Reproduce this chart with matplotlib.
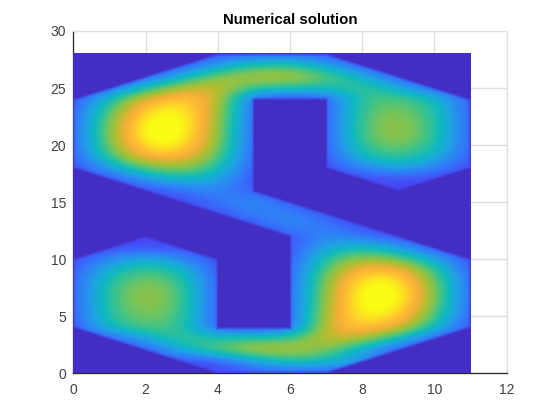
# Numerical solution on the S shaped domain, drawn like a MATLAB surf with view(2)
import numpy as np
import matplotlib
matplotlib.use('Agg')
import matplotlib.pyplot as plt
from matplotlib.colors import LinearSegmentedColormap
from matplotlib.patches import Polygon

plt.rcParams['font.family'] = ['Liberation Sans', 'DejaVu Sans']

# Domain outline
outline_x = [0, 4, 7, 11, 11, 9, 7, 7, 5, 5, 11, 11, 7, 4, 0, 0, 2, 4, 4, 6, 6, 0, 0]
outline_y = [24, 28, 28, 24, 18, 16, 18, 24, 24, 16, 10, 4, 0, 0, 4, 10, 12, 10, 4, 4, 12, 18, 24]

# Solution, nodes at x = 0..11, rows from y = 28 down to y = 0
x_nodes = [0, 1, 2, 3, 4, 5, 6, 7, 8, 9, 10, 11]
y_nodes = list(range(28, -1, -1))
u_top = [
    [.08, .08, .08, .08, .10, .12, .12, .10, .08, .08, .08, .08],  # 28
    [.08, .08, .08, .08, .27, .44, .46, .30, .08, .08, .08, .08],  # 27
    [.08, .08, .08, .33, .62, .72, .74, .58, .36, .08, .08, .08],  # 26
    [.08, .08, .42, .70, .78, .52, .52, .47, .54, .35, .08, .08],  # 25
    [.08, .42, .80, .92, .78, .09, .09, .09, .52, .56, .44, .08],  # 24
    [.10, .54, .95, 1.00, .74, .09, .09, .09, .55, .62, .49, .10],  # 23
    [.10, .62, 1.03, 1.05, .70, .09, .09, .09, .56, .67, .51, .10],  # 22
    [.10, .64, 1.05, 1.05, .68, .09, .09, .09, .56, .69, .51, .10],  # 21
    [.10, .62, 1.00, 1.00, .66, .09, .09, .09, .53, .63, .49, .10],  # 20
    [.10, .52, .88, .88, .58, .09, .09, .09, .44, .54, .40, .10],  # 19
    [.08, .32, .60, .68, .49, .09, .09, .09, .24, .37, .24, .08],  # 18
    [.08, .08, .30, .44, .34, .09, .08, .08, .08, .10, .08, .08],  # 17
    [.08, .08, .08, .18, .26, .11, .08, .08, .08, .08, .08, .08],  # 16
    [.08, .08, .08, .08, .20, .28, .11, .08, .08, .08, .08, .08],  # 15
]
u_mid = [
    [.08, .08, .08, .08, .10, .24, .24, .10, .08, .08, .08, .08],  # 14
]
u_bottom = [
    [.08, .08, .08, .08, .08, .11, .28, .20, .08, .08, .08, .08],  # 13
    [.08, .08, .08, .08, .08, .08, .11, .26, .18, .08, .08, .08],  # 12
    [.08, .08, .10, .08, .08, .08, .09, .34, .44, .30, .08, .08],  # 11
    [.08, .24, .37, .24, .09, .09, .09, .49, .68, .60, .32, .08],  # 10
    [.10, .40, .54, .44, .09, .09, .09, .58, .88, .88, .52, .10],  # 9
    [.10, .49, .63, .53, .09, .09, .09, .66, 1.00, 1.00, .62, .10],  # 8
    [.10, .51, .69, .56, .09, .09, .09, .68, 1.05, 1.05, .64, .10],  # 7
    [.10, .51, .67, .56, .09, .09, .09, .70, 1.05, 1.03, .62, .10],  # 6
    [.10, .49, .62, .55, .09, .09, .09, .74, 1.00, .95, .54, .10],  # 5
    [.08, .44, .56, .52, .09, .09, .09, .78, .92, .80, .42, .08],  # 4
    [.08, .08, .35, .54, .47, .52, .52, .78, .70, .42, .08, .08],  # 3
    [.08, .08, .08, .36, .58, .74, .72, .62, .33, .08, .08, .08],  # 2
    [.08, .08, .08, .08, .08, .30, .46, .44, .27, .08, .08, .08],  # 1
    [.08, .08, .08, .08, .10, .12, .12, .10, .08, .08, .08, .08],  # 0
]
u = np.array(u_top + u_mid + u_bottom)

# Colours
color_pos = [0, .08, .2, .33, .42, .52, .62, .7, .8, .88, 1]
color_hex = ['#422ec3', '#4846f5', '#327afa', '#1ea5e1', '#0fb9be', '#3cc38c',
             '#82c350', '#afbe32', '#f0af37', '#ffbe32', '#f9fb15']
surf_cmap = LinearSegmentedColormap.from_list('surf', list(zip(color_pos, color_hex)), N=256)

fig = plt.figure(figsize=(5.6, 4.2), dpi=100)
ax = fig.add_axes([73.3 / 560, 1 - 373.3 / 420, 433.4 / 560, 342.3 / 420])

# Flat rectangle below, smooth solution clipped to the domain above, both over the spines
ax.imshow(np.zeros((2, 2)), extent=(0, 11, 0, 28), cmap=surf_cmap, vmin=0, vmax=1,
          aspect='auto', zorder=3)
img = ax.imshow(u, extent=(-0.5, 11.5, -0.5, 28.5), cmap=surf_cmap, vmin=0, vmax=1,
                aspect='auto', interpolation='bicubic', zorder=3.1)
shape = Polygon(np.column_stack([outline_x, outline_y]), closed=True, transform=ax.transData,
                facecolor='none', edgecolor='none')
ax.add_patch(shape)
img.set_clip_path(shape)

# Soft rim where the solution falls to zero on the boundary
for rim_width, rim_alpha in [(3, 0.3), (1.2, 0.55)]:
    rim, = ax.plot(outline_x, outline_y, color='#4434d0', linewidth=rim_width, alpha=rim_alpha,
                   zorder=3.2, solid_joinstyle='miter')
    rim.set_clip_path(shape)

ax.set_xlim(0, 12)
ax.set_ylim(0, 30)
ax.set_xticks([0, 2, 4, 6, 8, 10, 12])
ax.set_yticks([0, 5, 10, 15, 20, 25, 30])
ax.grid(True, color='#dfdfdf', linewidth=1)
ax.set_axisbelow(True)
ax.tick_params(direction='in', length=3, width=0.8, labelsize=10, colors='#404040')
ax.tick_params(axis='x', pad=7)
ax.tick_params(axis='y', pad=5)
for side in ['top', 'right']:
    ax.spines[side].set_color('#dfdfdf')
for side in ['left', 'bottom']:
    ax.spines[side].set_color('#262626')
    ax.spines[side].set_linewidth(0.9)
ax.set_title('Numerical solution', fontsize=10.8, fontweight='bold', color='black', pad=5)

fig.savefig('out.png', dpi=100)
